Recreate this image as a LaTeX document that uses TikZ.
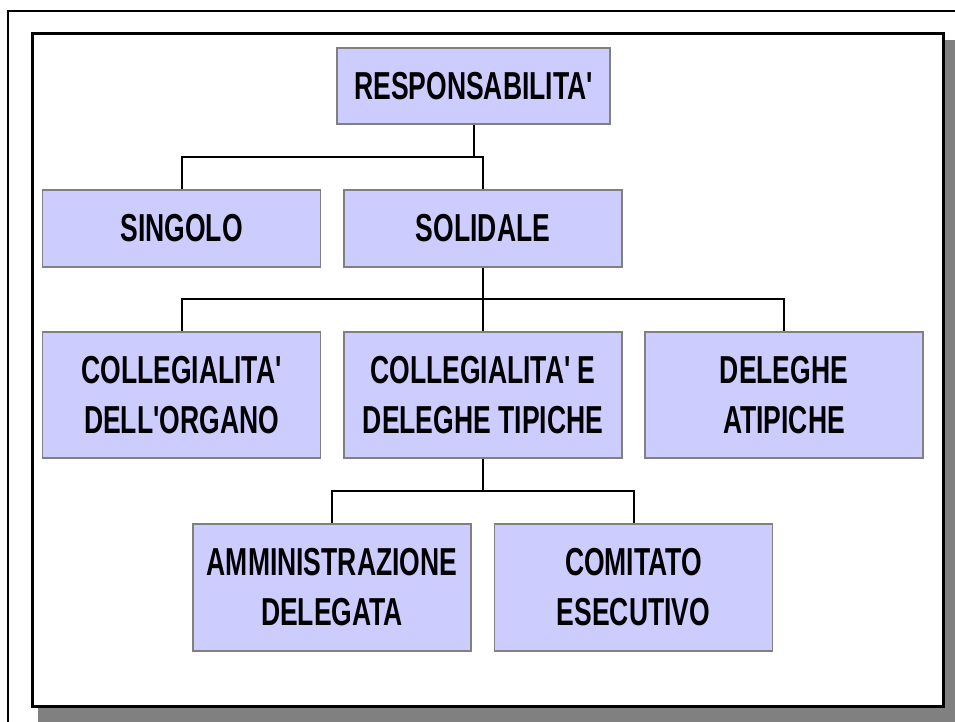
\documentclass[tikz,border=0pt]{standalone}
\usepackage{fontspec}
\setmainfont{Liberation Sans}[FakeStretch=0.68, Ligatures=TeXOff]
\usepackage{tikz}

\definecolor{boxfill}{HTML}{CCCCFF}
\definecolor{boxline}{HTML}{808080}
\definecolor{shadowgray}{HTML}{808080}

\tikzset{
  orgbox/.style={draw=boxline, fill=boxfill, line width=1.6pt, inner sep=0pt,
    align=center, font=\fontsize{39}{50}\selectfont\bfseries},
  onerow/.style={orgbox, minimum width=278pt, minimum height=77pt},
  tworow/.style={orgbox, minimum width=278pt, minimum height=126pt},
  link/.style={black, line width=2pt}
}

\begin{document}
\begin{tikzpicture}[x=1pt, y=-1pt]

  \useasboundingbox (0,0) rectangle (955,721);

  % frames (outer line runs past the page, inner one with shadow)
  \begin{scope}
    \clip (0,0) rectangle (955,721);
    \draw[black, line width=2.2pt] (8,11) rectangle (975,741);
    \fill[shadowgray] (38,40) rectangle (960,725);
    \draw[black, fill=white, line width=3pt] (32,33) rectangle (943,706);
  \end{scope}

  % boxes
  \node[onerow, minimum width=273pt, minimum height=76pt] (resp) at (473.5,86) {RESPONSABILITA'};
  \node[onerow] (sing) at (181.5,228.5) {SINGOLO};
  \node[onerow] (sol)  at (483,228.5)   {SOLIDALE};
  \node[tworow] (coll) at (181.5,395) {COLLEGIALITA'\\DELL'ORGANO};
  \node[tworow] (cdt)  at (483,395)   {COLLEGIALITA' E\\DELEGHE TIPICHE};
  \node[tworow] (atip) at (784,395)   {DELEGHE\\ATIPICHE};
  \node[tworow, minimum height=127pt] (amm) at (332,587.5)   {AMMINISTRAZIONE\\DELEGATA};
  \node[tworow, minimum height=127pt] (com) at (633.5,587.5) {COMITATO\\ESECUTIVO};

  % junction points of the connectors
  \coordinate (j1) at (473.5,157);
  \coordinate (j2) at (483,299);
  \coordinate (j3) at (483,491);

  % connectors
  \draw[link] (resp.south) -- (j1) -| (sing.north);
  \draw[link] (j1) -| (sol.north);
  \draw[link] (sol.south) -- (j2);
  \foreach \b in {coll,cdt,atip}
    \draw[link] (j2) -| (\b.north);
  \draw[link] (cdt.south) -- (j3);
  \foreach \b in {amm,com}
    \draw[link] (j3) -| (\b.north);

\end{tikzpicture}
\end{document}
